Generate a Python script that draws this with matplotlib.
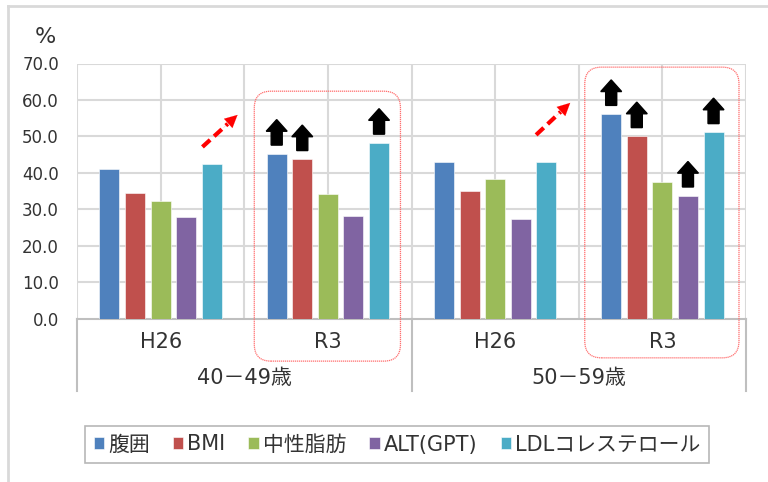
import numpy as np
import matplotlib
matplotlib.use("Agg")
import matplotlib.pyplot as plt
from matplotlib.patches import FancyBboxPatch, FancyArrow
from matplotlib.lines import Line2D

plt.rcParams['font.family'] = ['DejaVu Sans', 'Noto Sans CJK JP']

# data
years = ["H26", "R3", "H26", "R3"]
ages = ["40－49歳", "50－59歳"]
series = ["腹囲", "BMI", "中性脂肪", "ALT(GPT)", "LDLコレステロール"]
colors = ["#4F81BD", "#C0504D", "#9BBB59", "#8064A2", "#4BACC6"]
waist = [41.0, 45.2, 42.9, 56.1]
bmi = [34.4, 43.7, 34.9, 50.0]
tg = [32.2, 34.3, 38.4, 37.6]
alt = [27.8, 28.1, 27.4, 33.7]
ldl = [42.3, 48.2, 42.9, 51.1]
values = [waist, bmi, tg, alt, ldl]

# which bars get the black "up" arrow (series index, category index)
up_marks = [(0, 1), (1, 1), (4, 1), (0, 3), (1, 3), (3, 3), (4, 3)]

fig = plt.figure(figsize=(7.68, 4.82), dpi=100)
ax = fig.add_axes([77 / 768, 1 - 318.5 / 482, (746 - 77) / 768, (318.5 - 63.5) / 482])

x = np.arange(len(years))
width = 0.12
step = 0.153
for i, (name, vals) in enumerate(zip(series, values)):
    ax.bar(x + (i - 2) * step, vals, width, color=colors[i], label=name,
           edgecolor="white", linewidth=0.4, zorder=3)

txt_c = "#333333"
ax.set_xlim(-0.5, 3.5)
ax.set_ylim(0, 70)
ax.set_yticks(np.arange(0, 71, 10))
ax.set_yticklabels(["%.1f" % v for v in np.arange(0, 71, 10)], fontsize=12, color=txt_c)
ax.tick_params(axis="y", length=0, pad=13)
ax.set_xticks([])
for s in ["top", "right", "left"]:
    ax.spines[s].set_visible(False)
ax.spines["bottom"].set_color("#BFBFBF")
ax.spines["bottom"].set_linewidth(1.5)

grid_c = "#D9D9D9"
for yv in range(10, 71, 10):
    ax.axhline(yv, color=grid_c, lw=1.5, zorder=1)
for xv in np.arange(-0.5, 3.6, 0.5):
    ax.axvline(xv, color=grid_c, lw=1.5, zorder=1)

# hierarchical category axis
for xi, lab in zip(x, years):
    ax.text(xi, -6.4, lab, ha="center", va="center", fontsize=15, color=txt_c)
for gi, lab in enumerate(ages):
    ax.text(2 * gi + 0.5, -16.3, lab, ha="center", va="center", fontsize=15, color=txt_c)
for xv in [-0.5, 1.5, 3.5]:
    ax.add_line(Line2D([xv, xv], [0, -20], color="#BFBFBF", lw=1.5, clip_on=False))

# black up arrows above bars
for si, ci in up_marks:
    bx = ci + (si - 2) * step
    base = values[si][ci] + 2.4
    ax.add_patch(FancyArrow(bx, base, 0, 7.0, width=0.066, head_width=0.125,
                            head_length=3.2, length_includes_head=True,
                            color="black", zorder=5, clip_on=False))

# red dashed trend arrows
for (x0, y0, x1, y1) in [(0.25, 47.1, 0.46, 55.9), (2.245, 50.4, 2.449, 59.2)]:
    ax.plot([x0, x0 + (x1 - x0) * 0.72], [y0, y0 + (y1 - y0) * 0.72],
            color="red", lw=3, ls=(0, (2.5, 1.3)), zorder=5, solid_capstyle="butt")
    ax.annotate("", xy=(x1, y1), xytext=(x0 + (x1 - x0) * 0.6, y0 + (y1 - y0) * 0.6),
                arrowprops=dict(arrowstyle="-|>,head_length=0.9,head_width=0.45",
                                color="red", lw=0.1, shrinkA=0, shrinkB=0), zorder=6)

# dotted rounded boxes around R3 groups
aspect = (669 / 4) / (255 / 70)
for (x0, x1, y0, y1) in [(0.56, 1.434, -11.7, 62.4), (2.536, 3.458, -10.8, 69.0)]:
    box = FancyBboxPatch((x0, y0), x1 - x0, y1 - y0,
                         boxstyle="round,pad=0,rounding_size=0.1",
                         mutation_aspect=aspect, fill=False, edgecolor="#FF7070",
                         lw=0.9, ls=(0, (1, 0.6)), clip_on=False, zorder=6)
    ax.add_patch(box)

fig.text(45 / 768, 1 - 37 / 482, "%", fontsize=16, ha="center", va="center", color=txt_c)

leg = fig.legend(loc="center", bbox_to_anchor=(397 / 768, 1 - 444.5 / 482), ncol=5,
                 fontsize=15, handlelength=0.5, handleheight=0.5,
                 handletextpad=0.2, columnspacing=1.1, frameon=True,
                 fancybox=False, borderpad=0.4)
leg.get_frame().set_edgecolor("#A6A6A6")
leg.get_frame().set_linewidth(1.2)
for t in leg.get_texts():
    t.set_color(txt_c)

# outer chart border (top and left visible)
fig.add_artist(Line2D([8 / 768, 1], [1 - 6 / 482, 1 - 6 / 482], color="#D9D9D9", lw=2))
fig.add_artist(Line2D([8 / 768, 8 / 768], [0, 1 - 6 / 482], color="#D9D9D9", lw=2))

fig.savefig("out.png", dpi=100)
